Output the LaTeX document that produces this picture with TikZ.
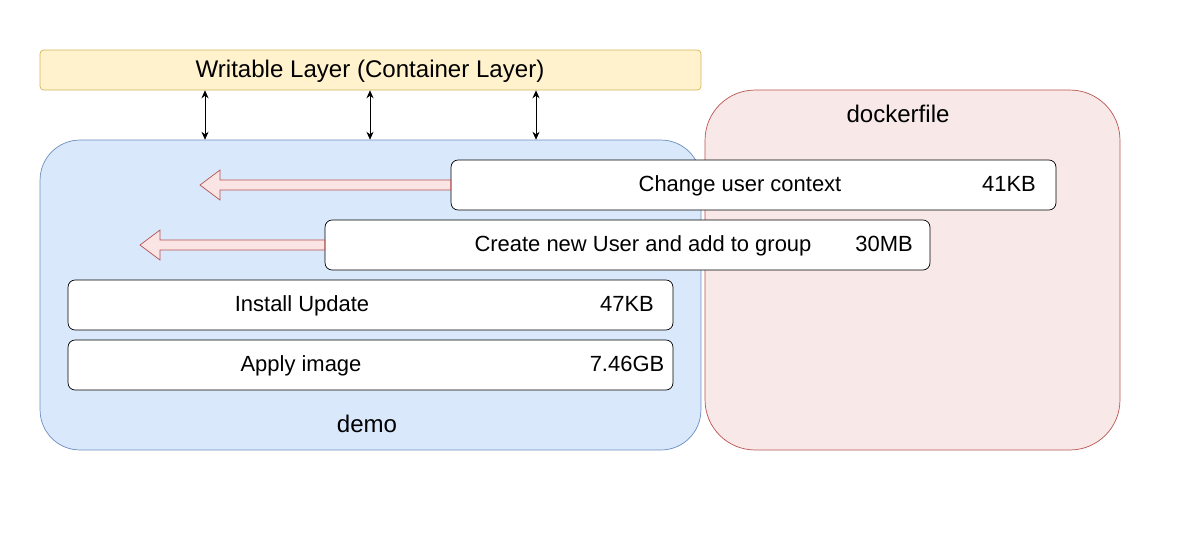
\documentclass[tikz,border=0pt]{standalone}
\usepackage{fontspec}
\setmainfont{Liberation Sans}
\usetikzlibrary{arrows.meta}

\definecolor{wlfill}{HTML}{FFF2CC}
\definecolor{wldraw}{HTML}{D6B656}
\definecolor{demofill}{HTML}{DAE8FC}
\definecolor{demodraw}{HTML}{6C8EBF}
\definecolor{dockfill}{HTML}{F8E8E8}
\definecolor{dockdraw}{HTML}{B85450}
\definecolor{arrfill}{HTML}{FAE4E4}

\begin{document}
\begin{tikzpicture}[
x=0.02cm,
y=-0.02cm,
>={Stealth[length=4.5pt,width=4pt]},
font=\fontsize{12.5pt}{14pt}\selectfont,
txt/.style={inner sep=0pt,text height=1.6ex,text depth=0.45ex},
big/.style={txt,font=\fontsize{13.7pt}{16pt}\selectfont},
layer/.style={%
    rectangle,
    draw=black,
    fill=white,
    rounded corners=4pt,
    minimum width=12.1cm,
    minimum height=1cm,
},
fat arrow/.style={%
    draw=dockdraw,
    fill=arrfill,
    to path={([yshift=-0.1cm]\tikztostart) -- ([xshift=0.4cm,yshift=-0.1cm]\tikztotarget)
        -- ([xshift=0.4cm,yshift=-0.3cm]\tikztotarget) -- (\tikztotarget)
        -- ([xshift=0.4cm,yshift=0.3cm]\tikztotarget) -- ([xshift=0.4cm,yshift=0.1cm]\tikztotarget)
        -- ([yshift=0.1cm]\tikztostart) -- cycle},
},
]
\useasboundingbox (0,0) rectangle (1202,532);

% Nodes
\node[rectangle,draw=dockdraw,fill=dockfill,rounded corners=1cm,
      minimum width=8.3cm,minimum height=7.2cm] at (912.5,270) (dock) {};
\node[rectangle,draw=demodraw,fill=demofill,rounded corners=0.8cm,
      minimum width=13.22cm,minimum height=6.2cm] at (370.5,295) (demo) {};
\node[rectangle,draw=wldraw,fill=wlfill,rounded corners=2pt,
      minimum width=13.22cm,minimum height=0.8cm] at (370.5,70) (wl) {};

\node[big]      at (370,72)     (wltxt)         {Writable Layer (Container Layer)};
\node[big]      at (898,117)    (docklabel)     {dockerfile};
\node[big]      at (367,427)    (demolabel)     {demo};

\node[layer]    at (753.5,185)  (chg)           {};
\node[layer]    at (627.5,245)  (usr)           {};
\node[layer]    at (370.5,305)  (upd)           {};
\node[layer]    at (370.5,365)  (img)           {};

\node[txt]      at (740,186.5)  (chgtxt)        {Change user context};
\node[txt]      at (1009,186.5) (chgsize)       {41KB};
\node[txt]      at (643,246.5)  (usrtxt)        {Create new User and add to group};
\node[txt]      at (884,246.5)  (usrsize)       {30MB};
\node[txt]      at (302,306.5)  (updtxt)        {Install Update};
\node[txt]      at (627,306.5)  (updsize)       {47KB};
\node[txt]      at (301,366.5)  (imgtxt)        {Apply image};
\node[txt]      at (627,366.5)  (imgsize)       {7.46GB};

\coordinate     (chgtip)    at (200,185);
\coordinate     (usrtip)    at (140,245);

% Lines
\draw[fat arrow] (chg.west) to (chgtip);
\draw[fat arrow] (usr.west) to (usrtip);

\foreach \x in {205,370,536}
    \draw[<->] (wl.south -| \x,0) -- (demo.north -| \x,0);
\end{tikzpicture}
\end{document}
